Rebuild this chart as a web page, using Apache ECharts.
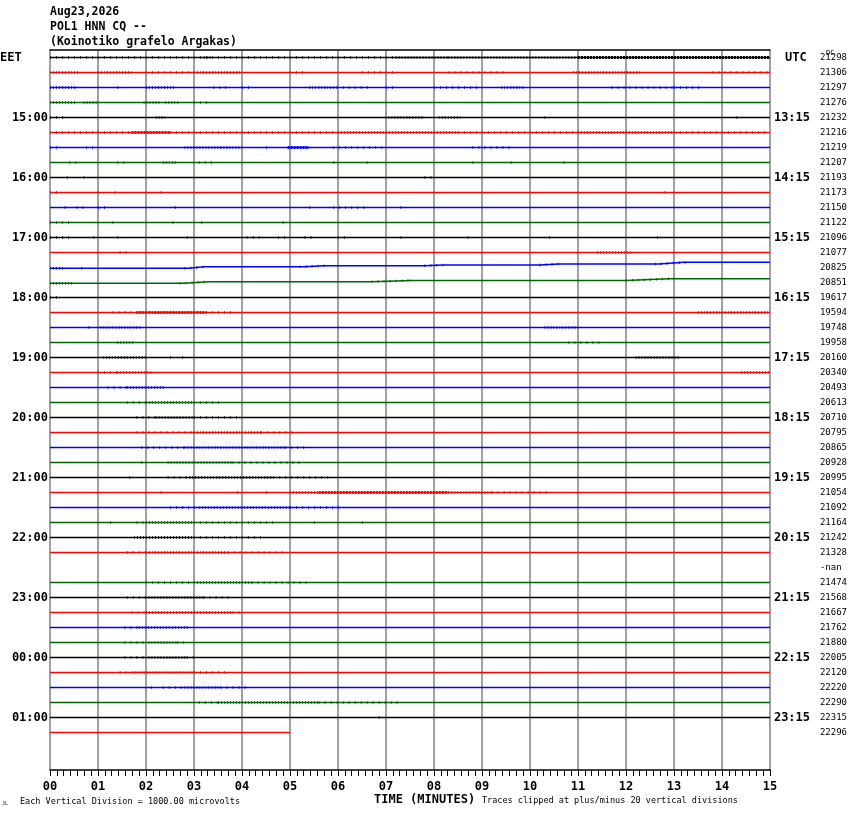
<!DOCTYPE html>
<html>
<head>
<meta charset="utf-8">
<title>POL1 HNN CQ -- helicorder</title>
<script src="https://cdn.jsdelivr.net/npm/echarts@6/dist/echarts.min.js"></script>
<style>
    html, body { margin: 0; padding: 0; background: #ffffff; }
    #heli { width: 850px; height: 814px; }
</style>
</head>
<body>
<div id="heli"></div>
<script>
// ---- data ----
var eetHours = ['15:00', '16:00', '17:00', '18:00', '19:00', '20:00', '21:00', '22:00', '23:00', '00:00', '01:00'];
var utcHours = ['13:15', '14:15', '15:15', '16:15', '17:15', '18:15', '19:15', '20:15', '21:15', '22:15', '23:15'];
var dcValues = ['21298', '21306', '21297', '21276', '21232', '21216', '21219', '21207', '21193', '21173',
    '21150', '21122', '21096', '21077', '20825', '20851', '19617', '19594', '19748', '19958',
    '20160', '20340', '20493', '20613', '20710', '20795', '20865', '20928', '20995', '21054',
    '21092', '21164', '21242', '21328', '-nan', '21474', '21568', '21667', '21762', '21880',
    '22005', '22120', '22220', '22290', '22315', '22296'];
var missingRows = [34];
var lastTraceEnd = 5; // minutes recorded on the last line

// baseline wander: [row, minute, offset in lines]
var drift = [
    [14, 0, 0.05], [14, 2.9, 0.05], [14, 3.2, -0.05], [14, 5.3, -0.05], [14, 5.7, -0.12], [14, 7.8, -0.12],
    [14, 8.2, -0.17], [14, 10.2, -0.17], [14, 10.6, -0.23], [14, 12.7, -0.23], [14, 13.2, -0.35], [14, 15, -0.35],
    [15, 0, 0.05], [15, 2.8, 0.05], [15, 3.3, -0.05], [15, 6.7, -0.05], [15, 7.5, -0.13], [15, 12, -0.13],
    [15, 12.9, -0.25], [15, 15, -0.25]
];

// shaking: [row, from minute, to minute, intensity 1..3]
var bursts = [
    [0, 0, 7.2, 1], [0, 3.2, 3.35, 2], [0, 7.2, 8.3, 2], [0, 8.3, 11, 2], [0, 11, 15, 3],
    [1, 0, 0.6, 2], [1, 1, 1.7, 2], [1, 2, 3, 1], [1, 3, 4, 2], [1, 5, 5.3, 1], [1, 6.5, 7.2, 1], [1, 8.3, 9.5, 1], [1, 10.9, 12.3, 2], [1, 13.8, 15, 1],
    [2, 0, 0.55, 2], [2, 1.4, 1.5, 1], [2, 2, 2.6, 2], [2, 3.4, 3.7, 1], [2, 4, 4.2, 1], [2, 5.4, 6, 2], [2, 6.1, 6.7, 1], [2, 7, 7.2, 1], [2, 8, 8.9, 1], [2, 9.4, 9.9, 2], [2, 11.7, 13, 1], [2, 13, 13.6, 1],
    [3, 0, 0.55, 2], [3, 0.7, 1, 2], [3, 1.95, 2.3, 2], [3, 2.4, 2.7, 2], [3, 3, 3.3, 1],
    [4, 0, 0.3, 1], [4, 2.2, 2.4, 2], [4, 7.05, 7.8, 2], [4, 8.1, 8.55, 2], [4, 10.3, 10.35, 1], [4, 14.3, 14.4, 1],
    [5, 0, 1.7, 1], [5, 1.7, 2.5, 3], [5, 2.5, 6, 1], [5, 6, 8.5, 2], [5, 8.5, 11, 1], [5, 11, 13, 2], [5, 13, 15, 1],
    [6, 0, 0.2, 1], [6, 0.75, 1, 1], [6, 2.8, 4, 2], [6, 4.5, 4.6, 1], [6, 4.95, 5.4, 3], [6, 5.9, 7, 1], [6, 8.8, 9.6, 1],
    [7, 0.4, 0.6, 1], [7, 1.4, 1.65, 1], [7, 2.35, 2.65, 2], [7, 3.1, 3.4, 1], [7, 5.9, 6, 1], [7, 6.6, 6.7, 1], [7, 8.8, 8.85, 1], [7, 9.6, 9.65, 1], [7, 10.7, 10.8, 1],
    [8, 0.35, 0.4, 1], [8, 0.7, 0.8, 1], [8, 7.8, 8, 1],
    [9, 0, 0.25, 1], [9, 1, 1.05, 1], [9, 1.35, 1.4, 1], [9, 2.3, 2.35, 1], [9, 12.8, 12.85, 1],
    [10, 0.3, 0.35, 1], [10, 0.55, 0.7, 1], [10, 1, 1.15, 1], [10, 2.6, 2.7, 1], [10, 5.4, 5.45, 1], [10, 5.9, 6.6, 1], [10, 7.3, 7.35, 1],
    [11, 0, 0.5, 1], [11, 1.3, 1.35, 1], [11, 2.55, 2.6, 1], [11, 3.15, 3.2, 1], [11, 4.85, 4.9, 1],
    [12, 0, 0.4, 1], [12, 0.9, 0.95, 1], [12, 1.4, 1.45, 1], [12, 2.85, 2.95, 1], [12, 4.1, 4.4, 1], [12, 4.75, 4.95, 1], [12, 5.3, 5.55, 1], [12, 6, 6.15, 1], [12, 7.3, 7.35, 1], [12, 8.7, 8.75, 1], [12, 10.4, 10.45, 1], [12, 12.65, 12.7, 1],
    [13, 1.45, 1.65, 1], [13, 11.4, 12.1, 2],
    [14, 0, 0.3, 2], [14, 0.65, 0.7, 1], [14, 2.8, 3.3, 1], [14, 5.2, 5.8, 1], [14, 7.8, 8.2, 1], [14, 10.2, 10.6, 1], [14, 12.6, 13.3, 1],
    [15, 0, 0.5, 2], [15, 2.7, 3.3, 1], [15, 6.7, 7.5, 1], [15, 12, 12.9, 1],
    [16, 0, 0.2, 1],
    [17, 1.3, 1.8, 1], [17, 1.8, 3.25, 3], [17, 3.25, 3.85, 1], [17, 13.5, 15, 2],
    [18, 0.8, 0.85, 1], [18, 1.05, 1.9, 2], [18, 10.3, 11, 2],
    [19, 1.4, 1.75, 2], [19, 10.8, 11.5, 1],
    [20, 1.1, 2, 2], [20, 2.5, 2.55, 1], [20, 2.75, 2.8, 1], [20, 12.2, 13.1, 2],
    [21, 1, 1.4, 1], [21, 1.4, 2.15, 2], [21, 14.4, 15, 2],
    [22, 1.2, 1.6, 1], [22, 1.6, 2.4, 2],
    [23, 1.6, 2, 1], [23, 2, 3, 2], [23, 3, 3.6, 1],
    [24, 1.8, 2.2, 1], [24, 2.2, 3, 2], [24, 3, 4, 1],
    [25, 1.8, 3, 1], [25, 3, 4.4, 2], [25, 4.4, 5.15, 1],
    [26, 1.9, 2.8, 1], [26, 2.8, 4.9, 2], [26, 4.9, 5.4, 1],
    [27, 1.9, 1.95, 1], [27, 2.45, 3.8, 2], [27, 3.8, 5.2, 1],
    [28, 1.65, 1.7, 1], [28, 2.45, 2.9, 1], [28, 2.9, 4.65, 2], [28, 4.65, 5.8, 1],
    [29, 2.3, 2.35, 1], [29, 3.9, 3.95, 1], [29, 4.5, 4.6, 1], [29, 5, 5.6, 2], [29, 5.6, 8.3, 3], [29, 8.3, 9.2, 2], [29, 9.2, 10.45, 1],
    [30, 2.5, 3.1, 1], [30, 3.1, 5, 2], [30, 5, 6.1, 1],
    [31, 1.25, 1.3, 1], [31, 1.8, 2, 1], [31, 2, 3, 2], [31, 3, 4.7, 1], [31, 5.5, 5.55, 1], [31, 6.5, 6.55, 1],
    [32, 1.75, 3, 2], [32, 3, 4.45, 1],
    [33, 1.6, 2, 1], [33, 2, 3.7, 2], [33, 3.7, 4.9, 1],
    [35, 2, 3, 1], [35, 3, 4.2, 2], [35, 4.2, 5.4, 1],
    [36, 1.6, 2.05, 1], [36, 2.05, 3.2, 2], [36, 3.2, 3.8, 1],
    [37, 1.7, 2, 1], [37, 2, 3.8, 2], [37, 3.8, 4.05, 1],
    [38, 1.55, 1.85, 1], [38, 1.85, 2.9, 2],
    [39, 1.55, 2.05, 1], [39, 2.05, 2.65, 2], [39, 2.65, 2.8, 1],
    [40, 1.55, 2.05, 1], [40, 2.05, 2.85, 2], [40, 2.85, 3.1, 1],
    [41, 1.45, 1.7, 1], [41, 1.7, 3, 2], [41, 3, 3.7, 1],
    [42, 2.1, 2.15, 1], [42, 2.35, 2.8, 1], [42, 2.8, 3.55, 2], [42, 3.55, 4.1, 1],
    [43, 3.1, 3.5, 1], [43, 3.5, 5.6, 2], [43, 5.6, 7.25, 1],
    [44, 6.85, 6.9, 1]
];

// ---- drawing ----
var MONO = '"DejaVu Sans Mono", monospace';
var palette = ['#000000', '#ff0000', '#0000ff', '#006600'];
var rowCount = dcValues.length;
var slots = [];
for (var s = 0; s < 48; s++) slots.push(String(s));

function driftPts(row) {
    return drift.filter(function (d) { return d[0] === row; }).map(function (d) { return [d[1], d[2]]; });
}
function driftAt(row, m) {
    var p = driftPts(row);
    if (!p.length) return 0;
    if (m <= p[0][0]) return p[0][1];
    for (var k = 1; k < p.length; k++) {
        if (m <= p[k][0]) {
            var t = (m - p[k - 1][0]) / (p[k][0] - p[k - 1][0]);
            return p[k - 1][1] + t * (p[k][1] - p[k - 1][1]);
        }
    }
    return p[p.length - 1][1];
}
function tracePoints(row) {
    var end = row === rowCount - 1 ? lastTraceEnd : 15;
    var p = driftPts(row);
    if (!p.length) return [[0, row], [end, row]];
    return p.filter(function (q) { return q[0] <= end; }).map(function (q) { return [q[0], row + q[1]]; });
}

var series = [];
for (var r = 0; r < rowCount; r++) {
    if (missingRows.indexOf(r) >= 0) continue;
    series.push({
        type: 'line', xAxisIndex: 0, yAxisIndex: 0,
        data: tracePoints(r), symbol: 'none', silent: true, z: 3,
        lineStyle: { color: palette[r % 4], width: 1.4 }
    });
}
var burstLook = {
    1: { w: 2.5, dash: [1, 5] },
    2: { w: 2.5, dash: [1, 2] },
    3: { w: 3, dash: [2, 1] }
};
series.push({
    type: 'custom', xAxisIndex: 0, yAxisIndex: 0, silent: true, z: 4,
    data: bursts,
    encode: { x: [1, 2], y: 0 },
    renderItem: function (params, api) {
        var row = api.value(0), a = api.value(1), b = api.value(2), lv = api.value(3);
        var p1 = api.coord([a, row + driftAt(row, a)]);
        var p2 = api.coord([b, row + driftAt(row, b)]);
        return {
            type: 'line',
            shape: { x1: p1[0], y1: p1[1], x2: p2[0], y2: p2[1] },
            style: { stroke: palette[row % 4], lineWidth: burstLook[lv].w, lineDash: burstLook[lv].dash }
        };
    }
});

function leftLabel(v, i) {
    return (i > 0 && i % 4 === 0 && eetHours[i / 4 - 1]) ? eetHours[i / 4 - 1] : '';
}
function rightLabel(v, i) {
    return (i > 0 && i % 4 === 0 && utcHours[i / 4 - 1]) ? utcHours[i / 4 - 1] : '';
}
function dcLabel(v, i) {
    return i < rowCount ? dcValues[i] : '';
}
function labelAxis(pos, fmt, size, margin, offset) {
    return {
        type: 'category', data: slots, inverse: true, position: pos, offset: offset,
        axisLine: { show: false }, axisTick: { show: false }, splitLine: { show: false },
        axisLabel: {
            interval: 0, margin: margin, formatter: fmt, color: '#000',
            fontFamily: MONO, fontSize: size, fontWeight: size > 10 ? 'bold' : 'normal'
        }
    };
}
function txt(text, left, top, size, bold) {
    return {
        text: text, left: left, top: top, padding: 0,
        textStyle: { fontFamily: MONO, fontSize: size, fontWeight: bold ? 'bold' : 'normal', color: '#000', lineHeight: 15 }
    };
}

var chart = echarts.init(document.getElementById('heli'), null, { renderer: 'canvas' });
chart.setOption({
    animation: false,
    backgroundColor: '#ffffff',
    title: [
        txt('Aug23,2026\nPOL1 HNN CQ --\n(Koinotiko grafelo Argakas)', 50, 5, 11.5, true),
        txt('EET', 0, 50, 12, true),
        txt('UTC', 785, 50, 12, true),
        txt('DC', 826, 46, 7, false),
        txt('TIME (MINUTES)', 374, 792, 12, true),
        txt('Each Vertical Division = 1000.00 microvolts', 20, 794, 8.5, false),
        txt('Traces clipped at plus/minus 20 vertical divisions', 482, 793, 8.5, false),
        txt('JL', 2, 796, 5, false)
    ],
    grid: { left: 50, right: 80, top: 50, bottom: 44 },
    xAxis: [{
        type: 'value', min: 0, max: 15, interval: 1, position: 'bottom',
        axisLine: { onZero: false, lineStyle: { color: '#000', width: 1.5 } },
        axisTick: { show: true, length: 6, lineStyle: { color: '#000', width: 1 } },
        minorTick: { show: true, splitNumber: 7, length: 6, lineStyle: { color: '#000', width: 1 } },
        splitLine: { show: true, lineStyle: { color: '#808080', width: 1.5 } },
        axisLabel: {
            margin: 11, color: '#000', fontFamily: MONO, fontSize: 12, fontWeight: 'bold',
            formatter: function (v) { return (v < 10 ? '0' : '') + v; }
        }
    }, {
        type: 'value', min: 0, max: 15, position: 'top',
        axisLine: { onZero: false, lineStyle: { color: '#000', width: 1.5 } },
        axisTick: { show: false }, axisLabel: { show: false }, splitLine: { show: false }
    }],
    yAxis: [
        { type: 'value', min: -0.5, max: 47.5, inverse: true, show: false },
        labelAxis('left', leftLabel, 12, 2, 0),
        labelAxis('right', rightLabel, 12, 4, 0),
        labelAxis('right', dcLabel, 9, 4, 46)
    ],
    series: series
});
</script>
</body>
</html>
